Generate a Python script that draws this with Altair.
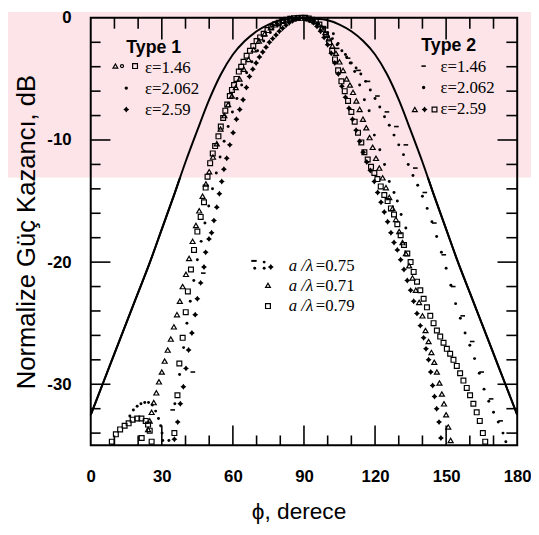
import altair as alt
import pandas as pd

# ---------------- data ----------------
line_phi = [0, 5, 10, 15, 20, 25, 30, 35, 40, 45, 50, 55, 60, 65, 70, 75, 80, 85, 90,
            95, 100, 105, 110, 115, 120, 125, 130, 135, 140, 145, 150, 155, 160, 165, 170, 175, 180]
line_db = [-32.5, -30.0, -27.5, -25.0, -22.5, -20.0, -17.3, -14.6, -11.8, -9.2, -6.7, -4.6, -3.0,
           -1.9, -1.1, -0.55, -0.2, -0.05, 0.0, -0.05, -0.2, -0.55, -1.1, -1.9, -3.0, -4.6, -6.7,
           -9.2, -11.8, -14.6, -17.3, -20.0, -22.5, -25.0, -27.5, -30.0, -32.5]

# left-side open squares (main lobe + side lobe)
sqL_phi = [8.9, 10.6, 12.4, 14.3, 16.0, 17.7, 19.6, 21.4, 23.2, 24.2, 24.9, 25.7, 21.5,
           35.3, 36.6, 37.4, 38.8, 40.1, 41.0, 42.3, 43.6, 45.0, 46.4, 47.8, 48.5, 49.3, 50.4,
           51.5, 52.5, 53.9, 54.9, 55.9, 56.8, 57.6, 58.7, 59.6, 60.5, 61.5, 62.5, 63.5, 64.5,
           65.8, 67.2, 68.6, 70.0, 71.5, 73.0, 74.6, 76.2, 77.8, 79.4, 81.0, 82.6, 84.2, 85.8,
           87.4, 89.0]
sqL_db = [-34.7, -34.1, -33.7, -33.4, -33.2, -32.9, -32.8, -32.8, -33.0, -33.3, -33.8, -34.7, -34.4,
          -34.0, -30.9, -28.3, -26.2, -24.1, -22.4, -20.6, -19.0, -17.5, -16.3, -15.1, -13.9, -13.0,
          -11.9, -11.1, -10.5, -9.7, -8.9, -8.2, -7.6, -7.1, -6.4, -5.9, -5.5, -5.0, -4.4, -4.0,
          -3.6, -3.1, -2.7, -2.3, -1.9, -1.6, -1.3, -1.0, -0.75, -0.55, -0.4, -0.25, -0.15, -0.08,
          -0.04, -0.01, 0.0]

# left-side open triangles
triL_phi = [24.2, 24.9, 25.7, 26.6, 27.7, 28.8, 30.0, 31.2, 32.5, 33.8, 35.1, 36.4, 37.6, 38.8,
            40.2, 41.5, 43.0, 44.4, 45.8, 47.2, 48.6, 50.0, 51.6, 53.2, 54.8, 56.4, 58.0, 59.6,
            61.2, 62.8, 64.6, 66.6, 68.8, 71.0, 73.4, 76.0, 78.6, 81.2, 84.0, 86.8]
triL_db = [-33.7, -33.0, -32.3, -31.5, -30.7, -29.8, -29.0, -28.1, -27.2, -26.3, -25.3, -24.3,
           -23.2, -22.0, -21.0, -19.7, -18.3, -17.0, -15.8, -14.6, -13.6, -12.6, -11.4, -10.3,
           -9.1, -8.0, -7.1, -6.4, -5.7, -5.0, -4.2, -3.4, -2.6, -1.9, -1.3, -0.8, -0.45, -0.2,
           -0.08, -0.01]

# left-side filled stars
stL_phi = [35.3, 36.7, 37.8, 39.1, 40.2, 41.3, 42.7, 44.1, 45.0, 46.4, 47.8, 48.5, 49.9, 51.0,
           52.0, 53.2, 54.3, 55.3, 56.2, 57.4, 58.7, 60.1, 61.5, 62.9, 64.3, 65.7, 67.0, 68.4,
           69.8, 71.2, 72.6, 74.0, 75.4, 76.8, 78.2, 79.6, 81.0, 82.4, 83.8, 85.2, 86.6, 88.0]
stL_db = [-34.5, -33.1, -31.6, -30.2, -28.7, -27.2, -25.8, -24.3, -23.0, -21.7, -20.4, -19.2,
          -18.1, -17.6, -16.6, -15.5, -14.4, -13.4, -12.4, -11.5, -10.4, -9.4, -8.3, -7.5, -6.7,
          -5.7, -4.8, -4.2, -3.7, -3.2, -2.8, -2.4, -2.0, -1.7, -1.4, -1.1, -0.85, -0.6, -0.4,
          -0.25, -0.12, -0.04]

# left-side small dots (main lobe) and side-lobe dots
dotL_phi = [33.0, 35.5, 37.5, 39.2, 40.6, 42.0, 43.5, 45.0, 46.6, 48.2, 49.8, 51.4, 53.0, 54.6,
            56.3, 58.0, 59.8, 61.7, 63.7, 65.8, 68.0, 70.4, 73.0, 75.8, 78.8, 82.0, 85.4, 88.5,
            16.5, 18.0, 19.6, 21.2, 22.8, 24.4, 26.0, 27.4, 28.6, 29.5, 30.1, 30.4]
dotL_db = [-34.6, -31.6, -29.2, -27.0, -25.0, -23.2, -21.5, -19.8, -18.3, -16.8, -15.4, -14.0,
           -12.7, -11.4, -10.1, -8.9, -7.7, -6.6, -5.5, -4.5, -3.6, -2.7, -1.9, -1.2, -0.65, -0.28,
           -0.07, -0.01,
           -32.6, -32.1, -31.8, -31.6, -31.5, -31.5, -31.7, -32.2, -32.8, -33.4, -34.0, -34.6]

dashL_phi = [34.6, 43.1, 47.5]
dashL_db = [-32.1, -29.0, -20.9]

# right-side open squares
sqR_phi = [90.5, 92.0, 93.5, 95.0, 96.5, 98.0, 99.3, 100.6, 101.9, 103.1, 104.4, 105.8, 107.2,
           108.6, 110.0, 111.4, 112.8, 114.2, 115.5, 116.9, 118.3, 119.7, 121.0, 122.4, 123.9,
           125.3, 126.7, 128.0, 129.4, 130.8, 132.2, 133.6, 135.0, 136.3, 137.7, 139.1, 140.5,
           141.9, 143.3, 144.7, 146.1, 147.5, 148.9, 150.3, 151.7, 153.1, 154.5, 155.9, 157.3,
           158.7, 160.1, 161.5, 162.9, 164.2, 165.5, 166.5]
sqR_db = [0.0, -0.05, -0.15, -0.3, -0.55, -0.9, -1.4, -2.0, -2.7, -3.4, -4.3, -5.2, -6.0, -6.8,
          -7.7, -8.5, -9.4, -10.2, -11.0, -11.6, -12.2, -12.7, -13.2, -13.8, -14.5, -15.0, -15.6,
          -16.1, -16.9, -17.8, -18.6, -19.3, -20.0, -20.8, -21.6, -22.3, -23.0, -23.7, -24.4,
          -25.0, -25.6, -26.1, -26.6, -27.1, -27.5, -28.0, -28.5, -29.1, -29.7, -30.3, -30.9,
          -31.6, -32.3, -33.0, -34.0, -34.7]

# right-side filled stars
stR_phi = [91.0, 92.5, 94.0, 95.5, 97.0, 98.5, 100.0, 101.5, 103.0, 104.5, 106.0, 107.5, 109.0,
           110.5, 112.0, 113.5, 115.0, 116.5, 118.0, 119.7, 121.1, 122.5, 123.9, 125.3, 126.7,
           128.0, 129.4, 130.8, 132.2, 133.6, 135.0, 136.3, 137.7, 139.1, 140.5, 141.5, 142.6,
           143.5, 144.3, 145.1, 146.0, 147.0, 147.8]
stR_db = [-0.05, -0.2, -0.4, -0.7, -1.1, -1.6, -2.2, -2.9, -3.7, -4.6, -5.6, -6.5, -7.4, -8.3,
          -9.2, -10.1, -11.0, -11.8, -12.5, -13.4, -14.3, -15.1, -15.9, -16.7, -17.6, -18.4,
          -19.0, -19.8, -20.6, -21.5, -22.3, -23.2, -24.2, -25.2, -26.2, -27.1, -28.0, -29.0,
          -30.1, -31.0, -32.0, -33.1, -34.4]

# right-side open triangles
triR_phi = [91.5, 93.0, 94.5, 96.0, 97.5, 99.0, 100.5, 102.0, 103.5, 105.0, 106.5, 108.0, 109.4,
            110.7, 112.1, 113.5, 114.9, 116.3, 117.7, 119.0, 120.4, 121.8, 123.2, 124.6, 126.0,
            127.4, 128.8, 130.2, 131.6, 133.0, 134.4, 135.8, 137.2, 138.6, 140.0, 141.3, 142.6,
            143.8, 145.0, 146.1, 147.2, 148.2, 149.1, 150.0, 150.9, 151.9]
triR_db = [-0.05, -0.15, -0.3, -0.5, -0.8, -1.2, -1.7, -2.3, -2.9, -3.6, -4.3, -5.0, -5.5, -6.1,
           -6.8, -7.5, -8.3, -9.0, -9.8, -10.6, -11.5, -12.3, -13.1, -13.9, -14.7, -15.6, -16.5,
           -17.5, -18.4, -19.3, -20.3, -21.3, -22.3, -23.3, -24.4, -25.6, -26.5, -27.4, -28.2,
           -29.0, -29.9, -30.8, -31.6, -32.5, -33.5, -34.6]

# right-side wide dotted series
dotR_phi = [92, 94, 96, 98, 100, 102, 104, 106, 108, 110, 112, 114, 116, 118, 120, 122, 124, 126,
            128, 130, 132, 134, 136, 138, 140, 142, 144, 146, 148, 150, 152, 154, 156, 158, 160,
            162, 164, 166, 168, 170, 172, 174, 175.2]
dotR_db = [-0.05, -0.2, -0.45, -0.8, -1.2, -1.7, -2.2, -2.7, -3.2, -3.7, -4.1, -4.6, -5.2, -5.9,
           -6.6, -7.3, -8.1, -8.8, -9.6, -10.4, -11.2, -12.0, -12.9, -13.7, -14.6, -15.6, -16.7,
           -17.9, -19.2, -20.5, -21.9, -23.4, -24.6, -25.8, -26.8, -27.9, -29.1, -30.4, -31.4,
           -32.3, -33.1, -34.0, -34.7]

# right-side intermediate dots
dotM_phi = [96, 99, 102.4, 104.4, 107.5, 109.5, 111.4, 113.5, 115.5, 117.5, 119.7, 122, 124, 126,
            128, 129.4, 131, 133]
dotM_db = [-0.5, -0.8, -1.3, -2.1, -3.0, -3.7, -4.4, -5.5, -6.7, -7.6, -9.6, -10.8, -12.0, -13.4,
           -14.3, -15.0, -16.1, -17.2]

# right-side dashes
dashR_phi = [100, 104, 108.6, 113, 117, 121, 125, 129, 133, 137, 141, 145, 149, 153, 157, 161,
             165, 169, 173]
dashR_db = [-1.5, -2.5, -3.3, -4.3, -5.2, -6.4, -7.7, -8.9, -10.4, -12.3, -14.3, -16.8, -19.4,
            -22.0, -24.4, -26.5, -29.0, -31.2, -33.0]

x_labels = [0, 30, 60, 90, 120, 150, 180]
y_labels = [0, -10, -20, -30]
x_major = [30, 60, 90, 120, 150]
x_minor = [10, 20, 40, 50, 70, 80, 100, 110, 130, 140, 160, 170]
y_major = [-10, -20, -30]
y_minor = [-2, -4, -6, -8, -12, -14, -16, -18, -22, -24, -26, -28, -32, -34]

# ---------------- chart ----------------
W, H = 433, 434
xs = alt.Scale(domain=[0, 180], nice=False, zero=False)
ys = alt.Scale(domain=[-35, 0], nice=False, zero=False)
STAR = "M0,-1L0.42,-0.42L1,0L0.42,0.42L0,1L-0.42,0.42L-1,0L-0.42,-0.42Z"
one = pd.DataFrame({"a": [0]})


def pts(phi, db, shape, size, filled, sw=1.2):
    df = pd.DataFrame({"phi": phi, "db": db})
    return alt.Chart(df).mark_point(shape=shape, size=size, filled=filled, color="black",
                                    strokeWidth=sw, opacity=1).encode(
        x=alt.X("phi:Q", scale=xs), y=alt.Y("db:Q", scale=ys))


def sym(x, y, shape, size, filled, sw=1.2):
    return alt.Chart(one).mark_point(shape=shape, size=size, filled=filled, color="black",
                                     strokeWidth=sw, opacity=1).encode(
        x=alt.datum(x), y=alt.datum(y))


def txt(x, y, s, font="Liberation Serif", size=17, weight="normal", style="normal", align="left"):
    return alt.Chart(one).mark_text(text=s, font=font, fontSize=size, fontWeight=weight,
                                    fontStyle=style, align=align, baseline="middle",
                                    color="black").encode(x=alt.datum(x), y=alt.datum(y))


def ticks(vals, side, length):
    df = pd.DataFrame({"v": vals})
    m = alt.Chart(df).mark_rule(color="black", strokeWidth=1.6)
    if side == "bottom":
        return m.encode(x=alt.X("v:Q", scale=xs), y=alt.value(H), y2=alt.value(H - length))
    if side == "top":
        return m.encode(x=alt.X("v:Q", scale=xs), y=alt.value(0), y2=alt.value(length))
    if side == "left":
        return m.encode(y=alt.Y("v:Q", scale=ys), x=alt.value(0), x2=alt.value(length))
    return m.encode(y=alt.Y("v:Q", scale=ys), x=alt.value(W), x2=alt.value(W - length))


# watermark (pale pink band at the top)
pink = alt.Chart(one).mark_rect(color="#fce4e8").encode(
    x=alt.value(-84), x2=alt.value(447), y=alt.value(-6), y2=alt.value(162))

line_df = pd.DataFrame({"phi": line_phi, "db": line_db})
line = alt.Chart(line_df).mark_line(color="black", strokeWidth=2, interpolate="monotone").encode(
    x=alt.X("phi:Q", scale=xs, axis=alt.Axis(
        values=x_labels, ticks=False, domain=False, grid=False, labelFlush=False,
        labelFont="Liberation Sans", labelFontWeight="bold", labelFontSize=17, labelPadding=24,
        labelColor="black", title="ϕ, derece", titleFont="Liberation Sans", titleFontSize=23,
        titleFontWeight="normal", titleColor="black", titleX=211, titleY=74,
        titleBaseline="alphabetic", titleAlign="center", zindex=1)),
    y=alt.Y("db:Q", scale=ys, axis=alt.Axis(
        values=y_labels, ticks=False, domain=False, grid=False, labelFlush=False,
        labelExpr="(datum.value < 0 ? '-' : '') + abs(datum.value)",
        labelFont="Liberation Sans", labelFontWeight="bold", labelFontSize=17, labelPadding=20,
        labelColor="black", title="Normalize Güç Kazancı, dB", titleFont="Liberation Sans",
        titleFontSize=26, titleFontWeight="normal", titleColor="black", titleAngle=270,
        titleX=-57, titleY=217, titleBaseline="alphabetic", titleAlign="center", zindex=1)),
)

frame = alt.Chart(one).mark_rect(fillOpacity=0, stroke="black", strokeWidth=2).encode(
    x=alt.value(0), x2=alt.value(W), y=alt.value(0), y2=alt.value(H))

layers = [
    line, pink,
    alt.Chart(line_df).mark_line(color="black", strokeWidth=2, interpolate="monotone").encode(
        x=alt.X("phi:Q", scale=xs), y=alt.Y("db:Q", scale=ys)),
    pts(sqL_phi, sqL_db, "square", 24, False),
    pts(triL_phi, triL_db, "triangle-up", 26, False),
    pts(stL_phi, stL_db, STAR, 36, True),
    pts(dotL_phi, dotL_db, "circle", 9, True),
    pts(dashL_phi, dashL_db, "stroke", 22, False, 1.6),
    pts(sqR_phi, sqR_db, "square", 24, False),
    pts(stR_phi, stR_db, STAR, 36, True),
    pts(triR_phi, triR_db, "triangle-up", 26, False),
    pts(dotR_phi, dotR_db, "circle", 9, True),
    pts(dotM_phi, dotM_db, "circle", 9, True),
    pts(dashR_phi, dashR_db, "stroke", 22, False, 1.6),
    ticks(x_major, "bottom", 20), ticks(x_minor, "bottom", 10),
    ticks(x_major, "top", 22), ticks(x_minor, "top", 11),
    ticks(y_major, "left", 20), ticks(y_minor, "left", 10),
    ticks(y_major, "right", 20), ticks(y_minor, "right", 11),
    # legends
    txt(26.6, -2.45, "Type 1", font="Liberation Sans", size=18, weight="bold", align="center"),
    sym(10.4, -3.95, "triangle-up", 24, False), sym(13.2, -3.95, "circle", 10, False),
    sym(18.7, -3.95, "square", 24, False),
    txt(22.9, -4.1, "ε=1.46"),
    sym(15.0, -5.75, "circle", 12, True), txt(22.9, -5.85, "ε=2.062"),
    sym(15.0, -7.5, STAR, 36, True), txt(22.9, -7.55, "ε=2.59"),
    txt(151.1, -2.35, "Type 2", font="Liberation Sans", size=18, weight="bold", align="center"),
    sym(140.5, -3.95, "stroke", 20, False, 1.6), txt(147.6, -4.0, "ε=1.46"),
    sym(140.5, -5.7, "circle", 12, True), txt(147.6, -5.75, "ε=2.062"),
    sym(136.8, -7.5, "triangle-up", 24, False), sym(140.9, -7.5, STAR, 36, True),
    sym(145.1, -7.5, "square", 24, False), txt(147.6, -7.5, "ε=2.59"),
    sym(68.9, -19.9, "stroke", 30, False, 2), sym(69.2, -20.5, "circle", 9, True),
    sym(73.2, -20.0, "circle", 9, True), sym(73.2, -20.5, "circle", 9, True),
    sym(76.0, -20.4, STAR, 36, True),
    txt(83.6, -20.3, "a /λ", size=17, style="italic"), txt(95.0, -20.3, "=0.75", size=17),
    sym(74.8, -21.9, "triangle-up", 24, False),
    txt(83.6, -22.0, "a /λ", size=17, style="italic"), txt(95.0, -22.0, "=0.71", size=17),
    sym(74.8, -23.6, "square", 24, False),
    txt(83.6, -23.6, "a /λ", size=17, style="italic"), txt(95.0, -23.6, "=0.79", size=17),
    frame,
]

chart = alt.layer(*layers).properties(
    width=W, height=H,
    padding={"left": 84, "top": 6, "right": 14, "bottom": 84},
    autosize=alt.AutoSizeParams(type="none"),
).configure_view(strokeWidth=0)

chart.save("out.html", embed_options={"renderer": "svg", "actions": False})
